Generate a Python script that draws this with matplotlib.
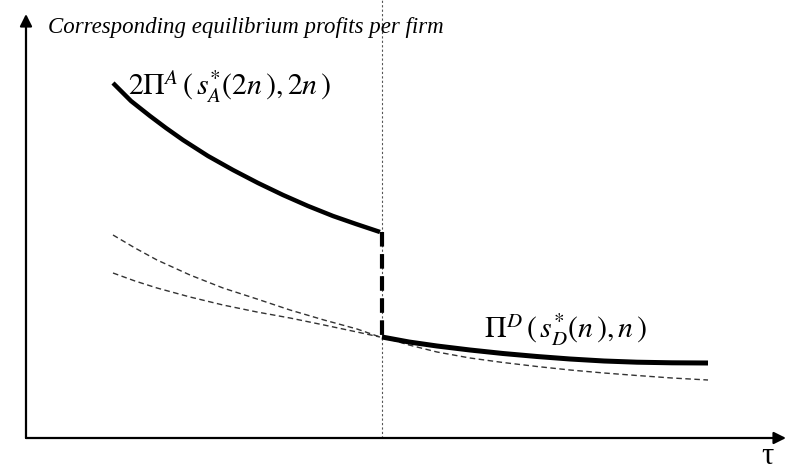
import numpy as np
import matplotlib.pyplot as plt

plt.rcParams['mathtext.fontset'] = 'stix'

# values (tau from the y-axis, profit above the x-axis)
tau_A = [87, 105, 124, 140, 157, 182, 207, 232, 257, 282, 307, 330, 354]
pi_A = [355, 337, 322, 310, 298, 282, 268, 255, 243, 232, 222, 214, 206]

tau_D = [356, 383, 411, 444, 477, 511, 544, 578, 611, 646, 682]
pi_D = [101, 96, 92, 88, 84.5, 81.5, 79, 77, 75.8, 75.2, 75]

tau_up = [87, 109, 131, 164, 197, 231, 264, 298, 331, 354]
pi_up = [203, 190, 178, 163, 150, 139, 128, 118, 109, 101]

tau_low = [87, 109, 131, 164, 197, 231, 264, 298, 331, 354]
pi_low = [165, 157, 150, 141, 133, 126, 120, 113, 106, 101]

tau_tail = [356, 383, 411, 444, 477, 511, 544, 578, 611, 646, 682]
pi_tail = [101, 93, 86, 80, 75.5, 71.5, 68, 65, 62.5, 60, 58]

tau_star = 356

fig = plt.figure(figsize=(7.87, 4.72), dpi=100)
ax = fig.add_axes([0, 0, 1, 1])
ax.set_xlim(-26, 761)
ax.set_ylim(-34, 438)
ax.axis('off')

# axes with arrows
ax.annotate('', xy=(760, 0), xytext=(0, 0),
            arrowprops=dict(arrowstyle='-|>', lw=1.6, color='black', mutation_scale=18, shrinkA=0, shrinkB=0))
ax.annotate('', xy=(0, 424), xytext=(0, 0),
            arrowprops=dict(arrowstyle='-|>', lw=1.6, color='black', mutation_scale=18, shrinkA=0, shrinkB=0))

# threshold line
ax.plot([tau_star, tau_star], [0, 440], color='#555555', lw=0.8, ls=(0, (2, 2)))

# thin dashed curves
ax.plot(tau_up, pi_up, color='#333333', lw=1.0, ls=(0, (4, 2.5)))
ax.plot(tau_low, pi_low, color='#333333', lw=1.0, ls=(0, (4, 2.5)))
ax.plot(tau_tail, pi_tail, color='#333333', lw=1.0, ls=(0, (4, 2.5)))

# equilibrium profits
ax.plot(tau_A, pi_A, color='black', lw=3.2, solid_capstyle='butt')
ax.plot(tau_D, pi_D, color='black', lw=3.6, solid_capstyle='butt')
ax.plot([tau_star, tau_star], [pi_A[-1], pi_D[0]], color='black', lw=3.0, ls=(0, (3.5, 1.8)))

ax.text(22, 411, 'Corresponding equilibrium profits per firm', family='Liberation Serif',
        style='italic', fontsize=16.5, va='center', ha='left')
ax.text(102, 351, r'$2\Pi^{A}\,(\,s^{*}_{A}(2n\,),2n\,)$', fontsize=21.5, va='center', ha='left')
ax.text(458, 108, r'$\Pi^{D}\,(\,s^{*}_{D}(n\,),n\,)$', fontsize=21.5, va='center', ha='left')
ax.text(735, -18, 'τ', family='Liberation Serif', fontsize=22, va='center', ha='left')

fig.savefig('out.png', dpi=100)
